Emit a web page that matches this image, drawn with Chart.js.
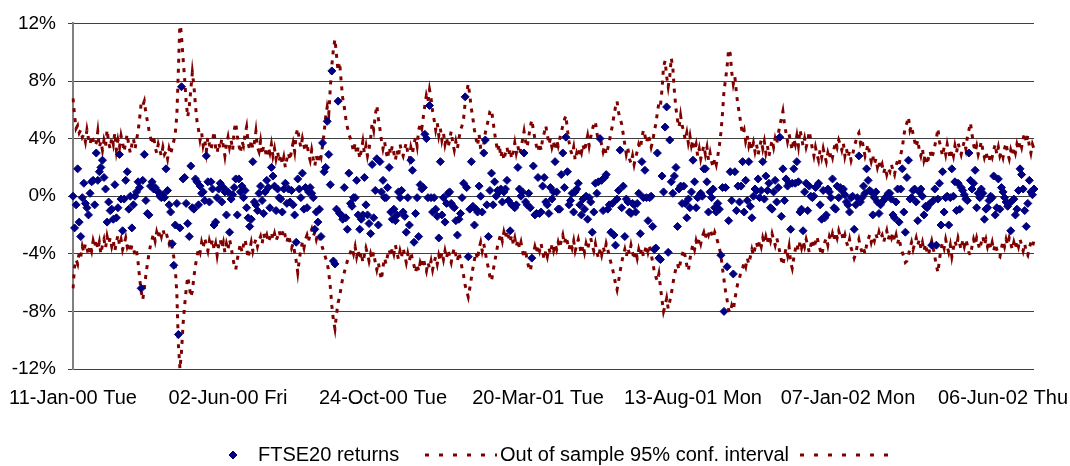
<!DOCTYPE html>
<html>
<head>
<meta charset="utf-8">
<title>FTSE20 returns</title>
<script src="https://cdn.jsdelivr.net/npm/chart.js@4.4.1/dist/chart.umd.min.js"></script>
<style>
  html, body { margin: 0; padding: 0; background: #fff; }
  canvas { display: block; }
</style>
</head>
<body>
<canvas id="chart" width="1070" height="466"></canvas>
<script>
// one category per trading day, a date label every 100 days
const tickLabels = ['11-Jan-00 Tue', '02-Jun-00 Fri', '24-Oct-00 Tue', '20-Mar-01 Tue',
                    '13-Aug-01 Mon', '07-Jan-02 Mon', '06-Jun-02 Thu'];
const labelEvery = 100;

// daily FTSE20 returns, in %
const returns = [
  0.0, -2.2, -0.6, 1.9, -1.8, -2.8, -0.1, 0.9, -0.5, -0.8, -1.3, 0.2, 1.0, 1.1, -0.6, 3.0, 1.1, 1.7, 2.0, 2.5,
  1.3, 0.5, -1.8, -0.4, -1.0, -0.9, -1.6, 0.8, -1.5, -0.8, 2.9, -0.2, -2.4, -0.2, 1.1, 1.7, -0.9, 0.0, -2.2, -0.6,
  0.0, 0.3, 1.0, 0.6, -6.4, 1.1, 2.9, -0.3, -1.2, -1.3, 0.7, 1.0, 0.5, 0.6, 0.4, 0.3, 0.0, -0.1, 0.1, -0.1,
  1.9, 0.4, -0.6, -1.1, -3.3, -4.8, -2.0, -0.5, -9.6, -2.2, 7.6, 1.2, 1.3, -0.5, -1.9, -2.8, 2.1, -0.8, -0.9, 1.2,
  1.0, -0.6, 0.7, 0.2, 0.3, -0.3, 2.8, 1.0, -0.4, 1.0, 0.5, -2.0, -1.8, -0.1, 0.5, 0.9, -0.4, 0.6, 0.3, -1.3,
  0.3, -2.5, -0.2, 0.1, 0.6, 1.2, -1.3, 1.2, 0.3, 0.7, -0.1, 0.4, -0.8, -1.5, -2.1, -1.6, 2.4, -0.4, -0.6, -1.0,
  0.2, 0.7, -0.3, -1.2, 0.3, 1.1, 0.6, -0.8, 2.0, 1.4, 0.7, -1.0, 0.5, -0.1, -0.2, -1.1, 0.5, 0.9, -0.5, 0.5,
  -0.4, 0.4, -0.6, -1.3, -3.2, 1.2, 0.5, -0.1, 1.6, -0.9, 0.6, -0.8, 0.3, 0.6, 0.2, -0.1, -2.3, -1.1, -1.8, -0.9,
  -2.8, 3.7, 1.7, 2.0, 5.2, 2.9, 0.8, 8.7, -4.5, -4.7, -0.9, 6.6, -1.2, -1.3, -1.6, 0.6, -1.5, -2.3, 1.6, -0.5,
  -0.7, -0.1, -0.1, 1.1, -1.3, -2.3, -1.6, -1.3, 1.3, -0.6, -1.3, -1.9, -2.6, 2.2, -1.5, 0.4, 2.6, -2.0, 2.4, 0.3,
  1.1, -0.1, -0.1, 0.6, 2.0, -1.1, -1.6, -0.9, -1.7, -1.3, 0.3, -0.1, 0.4, -1.1, -1.4, -2.5, -0.1, -2.0, 2.5, 1.8,
  -3.2, -1.2, -0.1, -2.8, 0.8, 0.5, 0.6, 4.3, 4.0, -0.1, 6.3, -0.1, -1.1, -0.1, -0.9, -1.4, -2.9, 2.4, -1.3, -0.1,
  -1.8, -0.5, 0.2, 0.3, -0.5, -0.7, -0.8, -1.7, -2.7, -1.6, -1.2, -0.1, 0.9, 6.9, 0.6, -4.2, -0.9, 2.4, -0.7, -2.0,
  -0.9, -1.1, 0.7, 0.0, -1.1, 3.0, 3.9, -0.6, -2.8, 0.4, 1.6, -0.6, 1.0, 0.0, 0.4, 0.3, 0.5, -0.4, 0.3, 0.5,
  1.1, -0.3, -2.4, -0.6, -0.7, -0.8, -0.6, 2.0, 0.5, 0.0, 0.3, 3.0, -0.4, -0.6, 0.2, -0.8, -4.3, 2.1, -1.3, -1.2,
  1.3, -1.2, -1.1, 0.7, 1.3, -0.4, -0.6, -1.2, 0.6, -0.2, 0.3, 2.4, 0.3, -0.9, -0.9, 1.5, 3.0, 0.6, 4.1, 1.7,
  -0.6, -0.3, 0.2, -1.1, 0.3, 0.5, 0.9, -0.6, -1.3, -0.2, -0.9, 0.0, -1.6, -0.1, -0.4, -2.5, -1.1, 0.9, 0.2, 1.0,
  4.0, 1.1, -1.0, 1.3, 1.5, -0.9, -0.6, -2.5, -0.5, -2.7, -3.4, -0.2, 0.4, 3.2, -0.8, 0.7, -2.8, -0.2, -0.4, -1.1,
  -1.2, -0.5, -0.6, -1.1, -0.5, 0.2, -2.6, 2.4, -0.1, 1.8, -0.1, -1.7, -0.1, 0.0, -2.1, -3.7, -3.6, 3.0, -4.3, -4.4,
  1.4, 0.3, 4.8, 6.2, -3.9, 3.9, 1.0, 0.2, 1.4, 2.0, -2.1, 0.5, 0.7, -0.5, 0.7, -0.5, -1.5, -0.2, -0.8, 0.3,
  2.5, 1.0, -0.8, -0.1, 0.0, 0.2, 0.0, 1.9, 1.9, 1.0, -1.1, 0.3, -0.1, 0.5, -0.8, -1.1, -0.5, -0.9, -4.1, 0.6,
  -8.0, 0.6, -4.9, -1.7, 1.7, -0.3, -5.4, 1.7, -1.0, 0.7, -0.4, 0.7, 2.4, -1.1, 1.1, -0.3, 2.4, -0.7, -1.5, 0.0,
  0.5, 0.4, 1.2, -0.1, 0.4, 2.4, -0.2, 1.4, 0.4, 0.9, -0.8, -0.9, 0.3, 1.1, -0.4, 0.6, 4.1, -1.4, 1.9, -0.3,
  1.2, 0.7, 0.9, -2.3, 0.9, 1.9, 0.9, 2.4, 1.0, -1.1, -0.9, -2.4, 0.3, 0.9, -1.0, 0.7, 0.0, -0.1, 0.0, 0.6,
  0.7, 0.9, -0.6, -1.6, 0.4, -1.5, -1.3, 0.5, 0.3, -0.1, 1.2, -0.8, -0.9, 0.7, -0.1, 0.6, 0.4, 0.5, 0.1, -0.4,
  -0.6, -1.1, -0.1, 0.0, -2.3, -0.6, -0.1, 2.8, -0.4, -0.1, 0.7, 0.2, 1.9, 1.1, 0.4, 0.3, -1.3, -0.1, 0.3, -0.4,
  -1.2, -0.6, -0.4, -0.3, -0.1, 0.0, 0.2, 0.2, -0.2, -1.3, -1.5, -0.4, 0.5, -1.8, 0.5, 1.9, -1.1, -2.5, 1.3, 2.5,
  -0.2, -0.1, 0.4, 0.5, -0.4, -1.7, 0.3, 0.5, 0.0, -1.3, -0.7, -0.8, -0.6, -0.5, -3.4, -0.3, 0.5, -3.4, -0.2, 0.9,
  -2.0, 1.7, -1.1, -0.1, 0.0, -2.0, -0.1, 1.9, 0.0, 1.0, -1.0, 0.9, -0.9, 0.6, 0.4, 0.1, -0.2, -0.3, 3.0, 1.1,
  0.5, 0.9, 1.8, -0.8, 0.2, -0.1, 0.5, 0.2, -1.6, -0.9, -0.8, -0.3, 0.0, -0.1, 1.4, -1.3, -0.8, 1.2, -0.9, 0.6,
  0.3, -0.1, -0.4, -0.7, -0.5, -2.4, -0.3, -0.2, -1.3, -0.9, 0.4, 1.9, 1.5, 0.5, -1.0, -2.1, -0.5, 1.1, 0.3, 0.1, 0.5
];

// out of sample 95% confidence interval, upper edge, in %
const upperBand = [
  6.8, 5.6, 4.7, 4.9, 4.4, 4.6, 4.1, 4.3, 3.8, 4.6, 4.0, 3.6, 4.2, 3.9, 3.5, 3.7, 4.5, 3.4, 3.8, 3.2,
  3.9, 3.5, 4.6, 3.7, 3.3, 4.1, 3.6, 4.4, 3.2, 3.9, 3.4, 4.2, 3.7, 3.1, 3.8, 4.3, 3.5, 3.0, 3.6, 4.0,
  3.3, 3.9, 4.5, 5.4, 6.5, 6.3, 6.6, 5.8, 5.2, 4.6, 4.1, 3.6, 4.2, 3.4, 3.0, 3.6, 3.2, 2.8, 3.4, 2.9,
  3.1, 2.6, 3.3, 2.9, 3.4, 3.8, 4.4, 5.6, 8.8, 12.2, 11.1, 9.6, 8.2, 6.6, 5.5, 6.2, 7.4, 8.6, 7.7, 6.3,
  5.2, 4.6, 3.9, 4.4, 3.5, 3.9, 3.1, 4.1, 3.6, 3.2, 3.8, 4.5, 3.4, 3.0, 3.7, 3.3, 4.0, 3.5, 2.8, 3.6,
  4.1, 3.4, 3.9, 3.2, 4.6, 5.1, 4.2, 3.6, 3.0, 3.8, 3.5, 4.3, 4.8, 3.7, 3.2, 3.9, 3.3, 3.7, 4.5, 3.4,
  3.1, 3.8, 2.9, 3.5, 3.2, 2.7, 3.4, 3.0, 3.6, 2.8, 3.3, 2.6, 3.1, 2.4, 2.9, 2.2, 2.7, 2.0, 2.6, 3.0,
  2.5, 3.2, 3.7, 3.1, 4.3, 4.7, 3.9, 3.4, 4.0, 3.5, 3.1, 3.7, 2.9, 2.5, 3.2, 2.6, 2.1, 2.8, 2.3, 3.0,
  2.7, 3.5, 4.4, 5.5, 6.2, 5.7, 7.5, 9.1, 10.2, 10.9, 9.8, 8.7, 9.3, 8.0, 6.8, 6.2, 5.4, 4.8, 4.3, 4.0,
  3.6, 3.1, 3.7, 2.9, 3.4, 2.6, 3.2, 3.8, 3.0, 3.5, 2.8, 3.3, 4.0, 5.1, 4.6, 5.6, 6.3, 5.4, 4.7, 3.9,
  3.3, 3.8, 3.1, 2.6, 3.4, 2.9, 3.5, 3.0, 2.5, 3.2, 2.7, 3.6, 3.1, 2.8, 3.3, 3.7, 3.0, 2.6, 3.4, 3.0,
  3.6, 4.1, 3.5, 4.6, 5.0, 4.7, 5.5, 6.3, 7.0, 6.6, 7.4, 6.8, 5.9, 5.3, 4.6, 5.1, 4.2, 4.7, 3.9, 4.4,
  3.6, 4.1, 3.4, 3.9, 4.5, 3.7, 3.2, 3.8, 3.3, 4.0, 4.6, 4.9, 5.4, 6.5, 7.2, 7.8, 7.0, 6.1, 5.4, 4.6,
  4.0, 3.5, 4.3, 3.3, 2.9, 3.6, 4.4, 4.9, 5.3, 5.9, 6.0, 5.2, 4.4, 3.7, 3.1, 3.6, 2.7, 3.2, 2.5, 3.0,
  3.4, 2.8, 3.3, 2.6, 3.1, 3.7, 3.0, 3.5, 2.9, 3.3, 3.9, 4.5, 3.8, 3.4, 4.1, 4.8, 5.3, 4.6, 4.0, 3.5,
  3.1, 3.7, 3.2, 4.0, 4.4, 4.9, 4.3, 3.6, 4.0, 3.4, 3.8, 3.2, 3.9, 3.5, 4.0, 4.4, 4.9, 5.3, 5.6, 4.6,
  3.8, 3.2, 2.9, 3.4, 2.5, 3.0, 2.7, 3.3, 3.0, 3.6, 3.1, 3.7, 4.2, 3.5, 4.1, 4.6, 5.0, 5.2, 4.4, 3.8,
  4.2, 3.6, 3.1, 3.5, 2.9, 3.3, 3.8, 4.4, 4.9, 5.6, 6.2, 6.6, 5.8, 5.4, 5.0, 4.3, 3.6, 2.9, 3.3, 2.6,
  2.3, 2.8, 2.2, 2.7, 3.1, 3.6, 3.3, 4.0, 4.6, 4.2, 3.7, 4.3, 3.9, 3.4, 3.8, 4.5, 5.0, 5.8, 6.5, 6.3,
  7.4, 9.0, 9.4, 8.3, 7.6, 8.3, 9.6, 8.9, 7.3, 6.1, 5.3, 4.8, 5.6, 4.9, 4.5, 3.9, 4.4, 3.7, 4.2, 3.5,
  3.9, 3.2, 3.6, 2.8, 3.3, 2.6, 3.1, 3.5, 2.9, 3.4, 2.5, 3.0, 2.4, 2.0, 2.6, 2.2, 2.8, 3.5, 4.4, 5.7,
  7.3, 8.1, 9.0, 10.2, 9.9, 8.6, 7.8, 8.3, 7.2, 6.3, 5.7, 4.9, 4.3, 4.6, 3.8, 4.2, 3.5, 3.9, 3.2, 3.7,
  3.1, 3.6, 2.9, 3.4, 3.9, 3.3, 3.8, 3.0, 3.5, 2.8, 3.3, 3.9, 3.4, 4.0, 3.6, 4.3, 4.9, 5.4, 5.9, 5.0,
  4.4, 3.8, 4.3, 3.7, 3.2, 4.0, 3.6, 4.2, 3.5, 4.6, 4.1, 3.5, 4.0, 3.4, 3.8, 4.5, 3.9, 3.3, 2.8, 3.4,
  2.9, 2.5, 3.2, 2.7, 3.3, 2.8, 2.4, 3.0, 2.6, 3.1, 2.7, 3.3, 3.8, 3.4, 3.9, 3.6, 3.2, 3.7, 2.8, 3.3,
  2.7, 3.1, 2.5, 2.9, 3.4, 3.8, 4.2, 4.4, 3.7, 4.0, 3.3, 2.8, 3.2, 3.6, 2.9, 2.4, 2.8, 2.2, 2.6, 2.0,
  2.4, 1.9, 2.2, 1.6, 2.0, 1.5, 1.9, 1.7, 2.2, 1.8, 1.5, 2.1, 2.5, 2.2, 2.9, 3.3, 4.2, 4.8, 5.1, 5.5,
  4.6, 4.9, 4.3, 3.8, 3.4, 3.9, 3.2, 2.8, 3.3, 2.5, 2.9, 2.2, 2.7, 3.1, 2.6, 3.0, 3.5, 4.0, 4.7, 3.8,
  3.3, 2.8, 3.4, 2.9, 3.6, 3.1, 2.6, 3.2, 2.8, 3.5, 3.0, 3.7, 3.3, 2.9, 3.4, 3.8, 3.3, 4.1, 4.6, 5.1,
  4.3, 3.6, 3.1, 3.5, 2.9, 3.3, 3.8, 3.2, 2.7, 3.1, 2.6, 2.4, 3.0, 2.7, 3.2, 3.6, 2.9, 3.4, 2.8, 3.1,
  2.7, 3.3, 3.7, 3.0, 2.6, 3.2, 2.8, 3.4, 3.0, 3.6, 3.2, 3.8, 3.4, 4.0, 4.4, 3.7, 4.2, 3.5, 3.0, 3.6, 3.3
];

// out of sample 95% confidence interval, lower edge, in %
const lowerBand = [
  -6.4, -4.9, -4.4, -4.7, -3.9, -4.2, -3.5, -3.9, -3.3, -3.6, -4.1, -3.4, -3.8, -3.1, -3.5, -3.0, -3.7, -3.2, -4.0, -3.4,
  -3.0, -3.6, -2.8, -3.3, -2.9, -3.5, -3.1, -3.8, -3.2, -2.7, -3.4, -3.0, -3.7, -3.3, -2.9, -3.5, -3.2, -3.9, -3.4, -3.6,
  -4.1, -3.8, -4.6, -5.7, -6.6, -7.2, -6.4, -5.5, -4.7, -4.0, -3.4, -3.0, -2.6, -3.1, -2.5, -2.9, -2.4, -2.8, -2.3, -2.7,
  -2.5, -2.9, -3.3, -3.0, -3.6, -4.2, -5.0, -6.8, -10.3, -12.0, -10.8, -8.9, -7.6, -6.5, -5.6, -6.2, -7.0, -6.6, -5.6, -4.8,
  -4.2, -3.6, -3.9, -3.2, -3.6, -2.9, -3.4, -3.8, -3.1, -3.5, -3.0, -3.7, -3.3, -4.1, -3.4, -3.0, -3.6, -3.2, -3.9, -3.3,
  -3.7, -3.0, -3.5, -4.2, -4.8, -5.1, -4.4, -3.8, -3.3, -3.9, -3.4, -3.0, -3.6, -4.3, -3.7, -3.2, -3.8, -3.3, -3.0, -3.5,
  -3.1, -2.8, -3.3, -2.6, -3.0, -2.7, -3.2, -2.9, -2.5, -3.0, -2.6, -3.1, -2.8, -2.4, -2.9, -2.6, -2.3, -2.8, -3.2, -2.7,
  -3.1, -3.6, -3.3, -3.9, -4.5, -5.3, -4.4, -3.7, -3.2, -3.6, -3.0, -2.7, -3.1, -2.6, -2.3, -2.8, -2.5, -3.0, -2.6, -2.9,
  -3.2, -3.6, -3.9, -4.3, -4.6, -5.3, -6.3, -7.6, -8.6, -9.2, -8.2, -7.4, -7.0, -6.3, -5.7, -5.3, -4.9, -4.5, -4.2, -3.9,
  -3.6, -4.0, -3.5, -4.2, -3.7, -4.4, -3.9, -4.6, -4.1, -3.6, -4.0, -4.5, -4.0, -4.4, -3.9, -4.6, -5.1, -4.6, -5.3, -5.8,
  -4.9, -4.3, -4.7, -4.1, -3.7, -4.2, -3.6, -4.0, -3.4, -3.9, -4.4, -3.8, -4.2, -3.6, -4.1, -4.6, -4.0, -4.5, -3.9, -4.4,
  -4.8, -5.3, -4.7, -5.2, -4.6, -4.9, -4.3, -4.8, -5.2, -4.6, -5.0, -4.5, -5.1, -4.6, -4.2, -4.7, -4.1, -4.5, -3.9, -4.4,
  -3.8, -4.3, -3.7, -4.2, -4.6, -4.0, -3.6, -4.1, -4.5, -3.9, -4.4, -5.0, -5.5, -6.2, -6.6, -7.0, -6.4, -5.7, -5.0, -4.4,
  -3.9, -4.4, -3.6, -3.2, -3.8, -3.3, -3.9, -4.5, -5.0, -5.6, -5.9, -5.2, -4.6, -4.0, -3.4, -3.0, -2.6, -3.1, -2.5, -2.9,
  -2.4, -2.8, -3.2, -2.7, -3.3, -2.9, -3.5, -3.0, -3.6, -3.2, -3.8, -4.3, -3.7, -4.5, -4.9, -5.2, -4.6, -4.0, -3.5, -3.9,
  -3.4, -3.8, -3.3, -3.9, -4.4, -3.8, -4.2, -3.6, -4.0, -3.4, -3.8, -3.3, -3.7, -3.2, -3.6, -3.1, -2.7, -3.3, -2.8, -3.2,
  -3.7, -3.2, -3.6, -3.1, -3.8, -3.4, -3.0, -3.5, -4.0, -3.4, -3.9, -3.3, -3.7, -3.2, -2.9, -3.4, -3.8, -3.3, -3.9, -4.3,
  -3.7, -4.1, -3.5, -3.9, -3.3, -3.7, -4.2, -4.6, -5.0, -5.5, -6.1, -6.5, -5.9, -5.2, -4.6, -4.1, -3.7, -4.2, -3.6, -4.0,
  -3.4, -3.9, -4.4, -3.8, -4.3, -3.7, -4.1, -3.6, -4.2, -3.8, -3.4, -3.9, -3.5, -4.0, -4.6, -5.2, -5.6, -5.9, -5.4, -6.3,
  -7.2, -8.0, -7.6, -7.1, -7.8, -7.3, -6.8, -6.1, -5.5, -5.0, -4.7, -5.1, -4.5, -4.1, -3.7, -4.2, -4.8, -5.2, -4.4, -3.8,
  -3.3, -3.7, -3.1, -3.5, -2.9, -3.3, -2.8, -2.5, -2.9, -2.4, -2.7, -2.3, -2.6, -2.9, -2.5, -2.8, -3.2, -3.6, -4.1, -5.0,
  -5.8, -6.6, -7.2, -7.9, -8.1, -7.6, -7.9, -7.2, -6.5, -6.0, -5.7, -5.2, -5.0, -4.6, -4.9, -4.3, -4.7, -4.2, -3.7, -4.1,
  -3.6, -3.2, -3.7, -3.1, -3.5, -2.9, -3.3, -2.8, -3.2, -2.7, -3.1, -2.6, -3.0, -3.4, -2.9, -3.3, -3.9, -4.4, -4.8, -4.2,
  -3.6, -4.1, -3.5, -4.6, -5.0, -4.3, -3.7, -3.3, -3.8, -3.2, -3.6, -3.1, -3.5, -3.0, -3.4, -3.9, -3.4, -3.0, -3.6, -3.2,
  -2.8, -3.3, -3.7, -4.1, -3.6, -3.2, -2.9, -3.4, -2.8, -3.1, -2.6, -3.0, -2.5, -2.9, -2.4, -2.8, -2.6, -3.1, -2.7, -3.2,
  -3.5, -3.0, -3.6, -3.9, -4.3, -4.0, -3.4, -3.0, -3.5, -3.9, -3.6, -4.0, -3.4, -3.0, -2.7, -3.2, -2.8, -3.1, -2.6, -3.0,
  -2.5, -2.9, -2.7, -3.2, -2.8, -2.4, -3.0, -2.6, -2.9, -2.5, -3.1, -2.7, -3.3, -2.9, -3.5, -3.9, -4.2, -4.6, -4.5, -4.1,
  -3.6, -3.2, -3.7, -3.3, -2.9, -3.4, -3.0, -3.6, -3.2, -3.8, -3.3, -3.9, -4.1, -3.5, -3.1, -3.6, -4.2, -4.8, -5.3, -4.4,
  -3.7, -3.2, -3.6, -3.0, -3.5, -3.9, -3.4, -4.2, -3.6, -3.1, -3.5, -2.9, -3.3, -3.7, -3.1, -3.5, -3.0, -3.4, -3.9, -4.1,
  -3.5, -3.0, -3.4, -2.9, -3.3, -3.7, -3.2, -2.8, -3.4, -3.0, -3.5, -3.1, -3.6, -3.2, -3.8, -3.3, -3.7, -4.1, -4.2, -3.6,
  -3.1, -3.5, -3.0, -3.4, -2.9, -3.3, -3.7, -3.2, -3.6, -3.1, -3.5, -3.0, -3.4, -3.8, -3.3, -3.9, -4.1, -3.6, -3.2, -3.5, -3.1
];

if (returns.length !== upperBand.length || returns.length !== lowerBand.length) {
    throw new Error('length mismatch ' + returns.length + ' ' + upperBand.length + ' ' + lowerBand.length);
}

const returnsColor = '#000080';
const bandColor = '#800000';
const bandDash = [4, 6];

//category list: the date label on every 100th day, blank otherwise
const categories = returns.map((v, i) => i % labelEvery === 0 ? (tickLabels[i / labelEvery] || '') : '');

Chart.defaults.font.family = "'Liberation Sans', Arial, sans-serif";
Chart.defaults.font.size = 19;
Chart.defaults.color = '#000';

//legend drawn under the axis labels
const bottomLegend = {
    id: 'bottomLegend',
    afterDraw(chart) {
        const ctx = chart.ctx;
        const y = 455;
        ctx.save();
        ctx.font = "20px 'Liberation Sans', Arial, sans-serif";
        ctx.textBaseline = 'middle';

        ctx.fillStyle = returnsColor;
        ctx.strokeStyle = returnsColor;
        Chart.helpers.drawPoint(ctx, {pointStyle: 'rectRot', radius: 4, borderWidth: 1}, 233, y);

        ctx.fillStyle = '#000';
        ctx.fillText('FTSE20 returns', 258, y);

        function dashSample(x0, x1) {
            ctx.beginPath();
            ctx.strokeStyle = bandColor;
            ctx.lineWidth = 3;
            ctx.setLineDash([4, 10]);
            ctx.moveTo(x0, y);
            ctx.lineTo(x1, y);
            ctx.stroke();
            ctx.setLineDash([]);
        }
        dashSample(425, 497);
        ctx.fillText('Out of sample 95% conf. interval', 500, y);
        dashSample(800, 892);
        ctx.restore();
    }
};

const chart = new Chart(document.getElementById('chart'), {
    type: 'line',
    data: {
        labels: categories,
        datasets: [
            {
                label: 'FTSE20 returns',
                data: returns,
                showLine: false,
                pointStyle: 'rectRot',
                pointRadius: 4,
                pointBorderWidth: 1,
                pointBackgroundColor: returnsColor,
                pointBorderColor: returnsColor
            },
            {
                label: 'Out of sample 95% conf. interval',
                data: upperBand,
                borderColor: bandColor,
                borderWidth: 3,
                borderDash: bandDash,
                pointRadius: 0,
                tension: 0,
                fill: false
            },
            {
                label: '',
                data: lowerBand,
                borderColor: bandColor,
                borderWidth: 3,
                borderDash: bandDash,
                pointRadius: 0,
                tension: 0,
                fill: false
            }
        ]
    },
    options: {
        responsive: false,
        animation: false,
        events: [],
        layout: {
            padding: {left: 0, top: 23, right: 36, bottom: 0}
        },
        plugins: {
            legend: {display: false},
            tooltip: {enabled: false}
        },
        scales: {
            x: {
                type: 'category',
                offset: false,
                grid: {display: false, drawTicks: false},
                border: {display: false},
                ticks: {
                    autoSkip: false,
                    maxRotation: 0,
                    minRotation: 0,
                    padding: 17,
                    font: {size: 20}
                },
                afterBuildTicks: axis => {
                    axis.ticks = axis.ticks.filter(t => t.value % labelEvery === 0);
                },
                afterFit: axis => {
                    axis.height = 97;
                    // labels may run past the plot edges, as in the original
                    axis.paddingLeft = 0;
                    axis.paddingRight = 0;
                }
            },
            y: {
                min: -12,
                max: 12,
                ticks: {
                    stepSize: 4,
                    padding: 12,
                    callback: value => value + '%'
                },
                grid: {
                    color: '#404040',
                    lineWidth: 1,
                    tickLength: 5
                },
                border: {display: true, color: '#808080', width: 2},
                afterFit: axis => {
                    axis.width = 73;
                }
            }
        }
    },
    plugins: [bottomLegend]
});
</script>
</body>
</html>
